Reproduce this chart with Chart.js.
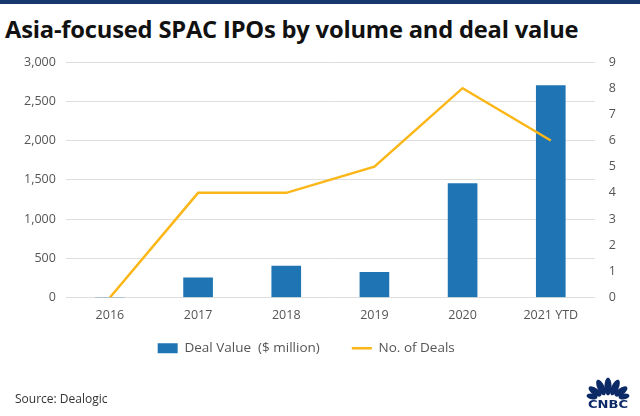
<!DOCTYPE html>
<html>
<head>
<meta charset="utf-8">
<script src="https://cdn.jsdelivr.net/npm/chart.js@4"></script>
<style>
  html, body { margin: 0; padding: 0; background: #fff; }
  #wrap { position: relative; width: 640px; height: 416px; overflow: hidden; }
  #topbar { position: absolute; left: 0; top: 0; width: 640px; height: 4px; background: #17386c; }
  #title { position: absolute; left: 5px; top: 13px; font-family: "Open Sans", sans-serif; font-weight: 700;
           font-size: 20px; color: #111; white-space: nowrap; letter-spacing: -0.2px; }
  #source { position: absolute; left: 15px; top: 390px; font-family: "Open Sans", sans-serif; font-size: 12px; color: #333; }
  #chart { position: absolute; left: 0; top: 0; }
  #logo { position: absolute; left: 586px; top: 376px; }
</style>
</head>
<body>
<div id="wrap">
  <div id="topbar"></div>
  <div id="title">Asia-focused SPAC IPOs by volume and deal value</div>
  <canvas id="chart" width="640" height="416"></canvas>
  <div id="source">Source: Dealogic</div>
  <svg id="logo" width="44" height="34" viewBox="0 0 44 34">
    <g fill="#0b2a66">
      <ellipse cx="22" cy="10.5" rx="3.6" ry="9" />
      <ellipse cx="15" cy="11.5" rx="3.6" ry="8.5" transform="rotate(-25 15 11.5)" />
      <ellipse cx="29" cy="11.5" rx="3.6" ry="8.5" transform="rotate(25 29 11.5)" />
      <ellipse cx="9" cy="15.5" rx="3.4" ry="7.5" transform="rotate(-55 9 15.5)" />
      <ellipse cx="35" cy="15.5" rx="3.4" ry="7.5" transform="rotate(55 35 15.5)" />
      <ellipse cx="6" cy="20.5" rx="2.8" ry="5.5" transform="rotate(-80 6 20.5)" />
      <ellipse cx="38" cy="20.5" rx="2.8" ry="5.5" transform="rotate(80 38 20.5)" />
      <text x="22" y="32" text-anchor="middle" font-family="DejaVu Sans" font-weight="bold" font-size="10" textLength="40" lengthAdjust="spacingAndGlyphs">CNBC</text>
    </g>
  </svg>
</div>
<script>
const years = ['2016', '2017', '2018', '2019', '2020', '2021 YTD'];
const dealValue = [0, 250, 400, 320, 1450, 2700];
const dealCount = [0, 4, 4, 5, 8, 6];
const leftTicks = [0, 500, 1000, 1500, 2000, 2500, 3000];
const rightTicks = [0, 1, 2, 3, 4, 5, 6, 7, 8, 9];

// fit title width to the reference
const t = document.getElementById('title');
const w = t.getBoundingClientRect().width;
t.style.fontSize = (20 * 572 / w).toFixed(2) + 'px';

const tickFont = { family: 'Open Sans', size: 12.5 };
const tickColor = '#555';

new Chart(document.getElementById('chart'), {
  data: {
    labels: years,
    datasets: [
      {
        type: 'line',
        label: 'No. of Deals',
        data: dealCount,
        yAxisID: 'y2',
        borderColor: '#fbb617',
        backgroundColor: '#fbb617',
        borderWidth: 2.5,
        pointRadius: 0,
        tension: 0,
        order: 0
      },
      {
        type: 'bar',
        label: 'Deal Value  ($ million)',
        data: dealValue,
        yAxisID: 'y',
        backgroundColor: '#1f75b4',
        barThickness: 29,
        order: 1
      }
    ]
  },
  options: {
    responsive: false,
    animation: false,
    layout: { padding: { top: 62, left: 14, right: 10, bottom: 51 } },
    scales: {
      x: {
        grid: { display: false },
        border: { display: false },
        afterFit: (s) => { s.height -= 1; },
        ticks: { font: tickFont, color: tickColor, padding: 2 }
      },
      y: {
        position: 'left',
        min: 0, max: 3000,
        afterBuildTicks: (s) => { s.ticks = leftTicks.map(v => ({ value: v })); },
        grid: { color: '#dedede', drawTicks: false },
        border: { display: false },
        ticks: { font: tickFont, color: tickColor, padding: 10,
                 callback: (v) => v.toLocaleString('en-US') }
      },
      y2: {
        position: 'right',
        min: 0, max: 9,
        afterBuildTicks: (s) => { s.ticks = rightTicks.map(v => ({ value: v })); },
        grid: { display: false, drawTicks: false },
        border: { display: false },
        ticks: { font: tickFont, color: tickColor, padding: 14 }
      }
    },
    plugins: {
      tooltip: { enabled: false },
      legend: {
        position: 'bottom',
        reverse: true,
        labels: {
          font: { family: 'Open Sans', size: 13.5 },
          color: '#555',
          usePointStyle: true,
          pointStyleWidth: 20,
          boxHeight: 10,
          padding: 18,
          generateLabels: (chart) => {
            const items = Chart.defaults.plugins.legend.labels.generateLabels(chart);
            items.forEach(it => {
              const ds = chart.data.datasets[it.datasetIndex];
              const isLine = ds.type === 'line';
              it.pointStyle = isLine ? 'line' : 'rect';
              it.lineWidth = isLine ? 2.5 : 0;
              it.strokeStyle = isLine ? ds.borderColor : ds.backgroundColor;
              // trailing spaces widen the gaps the way the original legend is spaced
              it.text = it.text + (isLine ? '\u00a0'.repeat(9) : '\u00a0'.repeat(4));
            });
            return items;
          }
        }
      }
    }
  }
});
</script>
</body>
</html>
